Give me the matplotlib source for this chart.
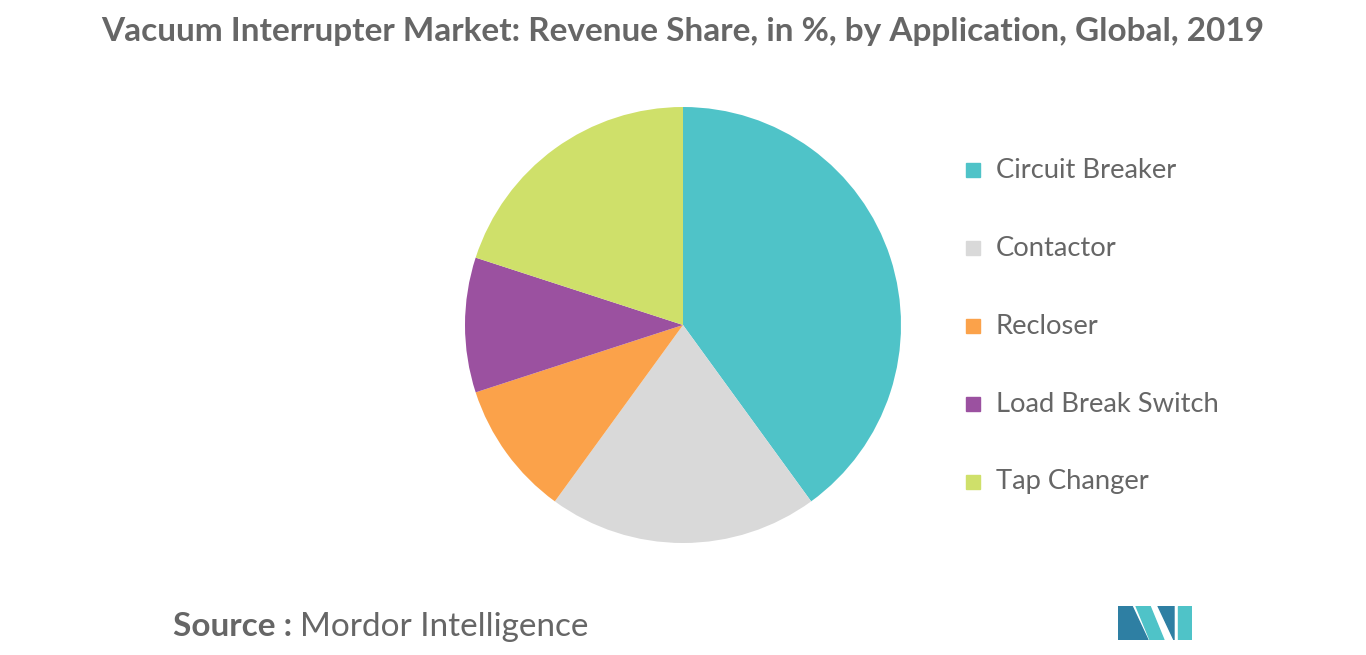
import matplotlib
matplotlib.use("Agg")
import matplotlib.pyplot as plt
from matplotlib.patches import Polygon

categories = ["Circuit Breaker", "Contactor", "Recloser", "Load Break Switch", "Tap Changer"]
values = [40, 20, 10, 10, 20]
colors = ["#4fc3c8", "#d9d9d9", "#fba24a", "#9b51a0", "#cfe06a"]

fig = plt.figure(figsize=(13.66, 6.55), dpi=100)
fig.text(683/1366, 1-32/655, "Vacuum Interrupter Market: Revenue Share, in %, by Application, Global, 2019",
         ha="center", va="center", fontsize=24, color="#666666", family="Lato", weight="bold")

ax = fig.add_axes([(683-218)/1366, 1-(325+218)/655, 436/1366, 436/655])
ax.pie(values, colors=colors, startangle=90, counterclock=False, radius=1,
       wedgeprops=dict(linewidth=0))
ax.set_xlim(-1, 1); ax.set_ylim(-1, 1)
ax.set_aspect("equal")

for i, (c, col) in enumerate(zip(categories, colors)):
    y = 1 - (170 + 78*i)/655
    fig.patches.append(plt.Rectangle((966/1366, y-7/655), 14/1366, 14/655,
                                     transform=fig.transFigure, color=col))
    fig.text(996/1366, y, c, va="center", ha="left", fontsize=19.7, color="#666666", family="Lato")

fig.text(173/1366, 1-627/655, "Source :", fontsize=24, color="#666666", family="Lato",
         weight="bold", va="center")
fig.text(300/1366, 1-627/655, "Mordor Intelligence", fontsize=24, color="#666666",
         family="Lato", va="center")

lax = fig.add_axes([1118/1366, 1-640/655, 74/1366, 34/655])
lax.set_xlim(0, 74); lax.set_ylim(0, 34); lax.axis("off")
lax.add_patch(Polygon([(0,0),(0,34),(14,34),(30,0)], color="#2e7fa3"))
lax.add_patch(Polygon([(18,34),(32,34),(46,0),(32,0)], color="#4fc3c8"))
lax.add_patch(Polygon([(40,34),(56,0),(56,34)], color="#2e7fa3"))
lax.add_patch(Polygon([(60,0),(60,34),(74,34),(74,0)], color="#4fc3c8"))

fig.savefig("out.png", dpi=100)
